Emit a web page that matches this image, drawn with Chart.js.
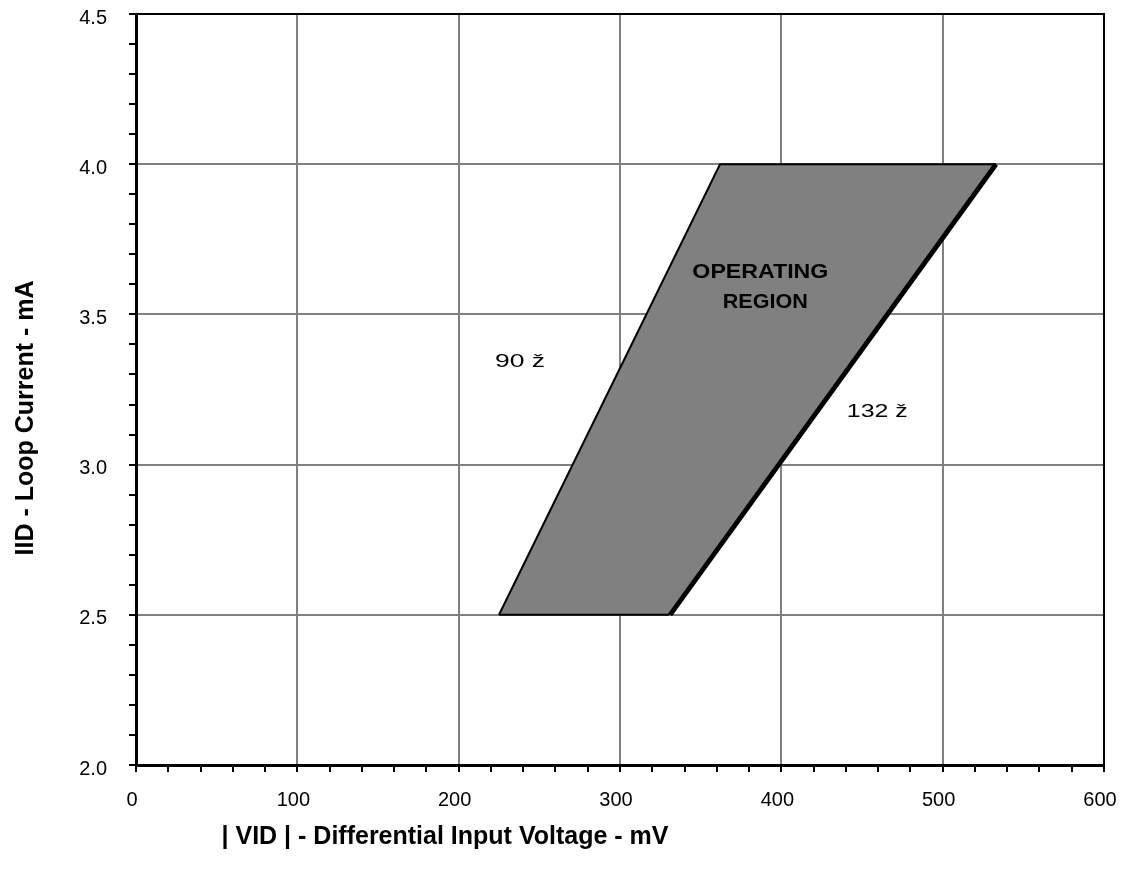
<!DOCTYPE html>
<html>
<head>
<meta charset="utf-8">
<script src="https://cdn.jsdelivr.net/npm/chart.js@4/dist/chart.umd.min.js"></script>
<style>
html,body{margin:0;padding:0;background:#fff;}
#wrap{width:1122px;height:880px;}
</style>
</head>
<body>
<div id="wrap"><canvas id="c" width="1122" height="880"></canvas></div>
<script>
// Operating region polygon (|VID| mV, IID mA)
const regionX = [225, 362, 532, 330, 225];
const regionY = [2.5, 4.0, 4.0, 2.5, 2.5];
// 132 ohm boundary line (drawn heavier)
const line132X = [331, 533];
const line132Y = [2.5, 4.0];
// Annotations
const noteText = ['OPERATING', 'REGION', '90 ž', '132 ž'];
const noteX = [387, 390, 238, 459.5];
const noteY = [3.64, 3.54, 3.34, 3.175];
const noteBold = [true, true, false, false];
// Axes
const xMin = 0, xMax = 600, xMajor = 100, xMinor = 20;
const yMin = 2.0, yMax = 4.5, yMajor = 0.5, yMinor = 0.1;
const xTitle = '| VID | - Differential Input Voltage - mV';
const yTitle = 'IID - Loop Current - mA';

const FONT = '"Liberation Sans", Arial, sans-serif';
const pts = (xs, ys) => xs.map((x, i) => ({x: x, y: ys[i]}));
const isMajor = (v, step) => Math.abs(v / step - Math.round(v / step)) < 1e-6;

// draw text, optionally stretched horizontally to span a given width
function drawText(ctx, text, font, cx, cy, targetW, rot, baseline) {
  ctx.save();
  ctx.font = font;
  const w = ctx.measureText(text).width;
  const sx = targetW ? targetW / w : 1;
  ctx.translate(cx, cy);
  if (rot) ctx.rotate(rot);
  ctx.scale(sx, 1);
  ctx.textAlign = 'center';
  ctx.textBaseline = baseline || 'middle';
  ctx.fillStyle = '#000';
  ctx.fillText(text, 0, 0);
  ctx.restore();
}

const frame = {
  id: 'frame',
  afterDatasetsDraw(chart) {
    const ctx = chart.ctx, a = chart.chartArea;
    ctx.save();
    ctx.strokeStyle = '#000';
    ctx.lineWidth = 2;
    ctx.strokeRect(a.left, a.top, a.right - a.left, a.bottom - a.top);
    ctx.restore();
    const xs = chart.scales.x, ys = chart.scales.y;
    const noteW = [136, 85, 50, 61];
    noteText.forEach((t, i) => {
      const f = (noteBold[i] ? 'bold 21px ' : '18px ') + FONT;
      drawText(ctx, t, f, xs.getPixelForValue(noteX[i]), ys.getPixelForValue(noteY[i]), noteW[i], 0);
    });
  },
  afterDraw(chart) {
    const ctx = chart.ctx;
    // axis titles
    drawText(ctx, xTitle, 'bold 25px ' + FONT, 445, 837, 0, 0);
    drawText(ctx, yTitle, 'bold 25px ' + FONT, 33, 418, 0, -Math.PI / 2, 'alphabetic');
  }
};

new Chart(document.getElementById('c'), {
  type: 'scatter',
  data: {
    datasets: [
      {
        data: pts(regionX, regionY),
        showLine: true,
        fill: 'shape',
        backgroundColor: '#808080',
        borderColor: '#000',
        borderWidth: 2,
        pointRadius: 0,
        tension: 0
      },
      {
        data: pts(line132X, line132Y),
        showLine: true,
        fill: false,
        borderColor: '#000',
        borderWidth: 5,
        pointRadius: 0
      }
    ]
  },
  options: {
    responsive: false,
    animation: false,
    devicePixelRatio: 1,
    layout: {padding: {top: 14, right: 18, left: 0, bottom: 0}, autoPadding: false},
    plugins: {legend: {display: false}, tooltip: {enabled: false}},
    scales: {
      x: {
        type: 'linear', min: xMin, max: xMax,
        afterFit: s => { s.height = 115; s.paddingLeft = 0; s.paddingRight = 0; },
        ticks: {
          stepSize: xMinor, autoSkip: false, maxRotation: 0,
          color: '#000', padding: 16, labelOffset: -4,
          font: {family: FONT, size: 20},
          callback: v => isMajor(v, xMajor) ? String(v) : ''
        },
        grid: {
          color: c => isMajor(c.tick.value, xMajor) ? '#808080' : 'rgba(0,0,0,0)',
          lineWidth: 2,
          tickColor: '#000', tickLength: 7, drawTicks: true
        },
        border: {display: true, color: '#000', width: 3}
      },
      y: {
        type: 'linear', min: yMin, max: yMax,
        afterFit: s => { s.width = 136; s.paddingTop = 0; s.paddingBottom = 0; },
        ticks: {
          stepSize: yMinor, autoSkip: false,
          color: '#000', padding: 22, labelOffset: 4,
          font: {family: FONT, size: 20},
          callback: v => isMajor(v, yMajor) ? v.toFixed(1) : ''
        },
        grid: {
          color: c => isMajor(c.tick.value, yMajor) ? '#808080' : 'rgba(0,0,0,0)',
          lineWidth: 2,
          tickColor: '#000', tickLength: 7, drawTicks: true
        },
        border: {display: true, color: '#000', width: 3}
      }
    }
  },
  plugins: [frame]
});
</script>
</body>
</html>
